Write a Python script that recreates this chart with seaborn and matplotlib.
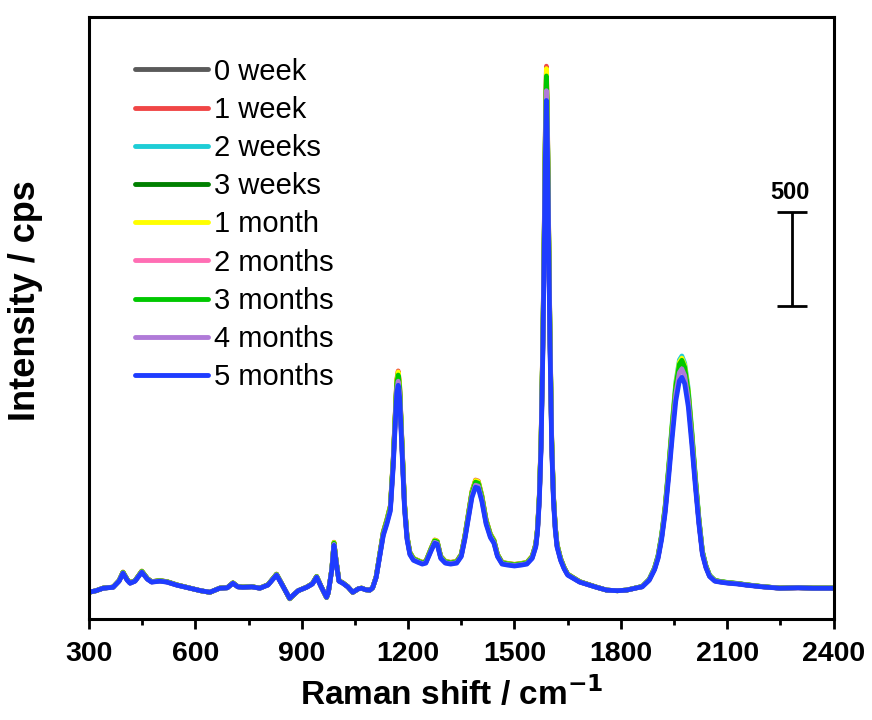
import numpy as np
import pandas as pd
import matplotlib
matplotlib.use("Agg")
import matplotlib.pyplot as plt
import seaborn as sns
from matplotlib.ticker import MultipleLocator

sns.set_theme(style="white")
plt.rcParams['font.family'] = ['Liberation Sans', 'DejaVu Sans']
plt.rcParams['text.color'] = 'black'
plt.rcParams['axes.labelcolor'] = 'black'
plt.rcParams['xtick.color'] = 'black'

# ── data (Raman shift / cm-1, intensity / cps) ──
raman_shift = [300, 320, 340, 368, 385, 396, 408, 416, 430, 449, 465, 477, 500, 520, 548,
               585, 615, 641, 669, 690, 706, 720, 734, 760, 782, 805, 829, 845, 866, 890,
               914, 930, 942, 955, 970, 975, 985, 991, 997, 1005, 1016, 1030, 1044, 1060,
               1069, 1080, 1092, 1100, 1110, 1120, 1130, 1140, 1150, 1158, 1163, 1168, 1172,
               1176, 1180, 1185, 1190, 1197, 1205, 1215, 1227, 1240, 1250, 1265, 1275, 1282,
               1292, 1305, 1320, 1337, 1350, 1360, 1370, 1380, 1390, 1398, 1408, 1420, 1432,
               1442, 1452, 1465, 1480, 1500, 1520, 1535, 1540, 1550, 1560, 1565, 1570, 1575,
               1580, 1584, 1587, 1590, 1593, 1596, 1600, 1605, 1610, 1615, 1620, 1630, 1640,
               1650, 1684, 1731, 1760, 1790, 1816, 1853, 1860, 1880, 1895, 1905, 1915, 1925,
               1935, 1945, 1955, 1965, 1972, 1980, 1990, 2000, 2010, 2020, 2030, 2040, 2050,
               2065, 2080, 2100, 2130, 2154, 2200, 2248, 2300, 2341, 2400]
base_cps = [142, 150, 163, 168, 200, 242, 205, 189, 200, 247, 210, 195, 200, 195, 179,
            163, 150, 142, 163, 165, 189, 170, 168, 170, 163, 180, 232, 180, 110, 150,
            168, 185, 221, 170, 116, 140, 260, 389, 300, 200, 189, 170, 142, 160,
            163, 155, 153, 165, 220, 330, 440, 500, 570, 800, 1000, 1190, 1232,
            1170, 1000, 780, 580, 420, 340, 310, 300, 290, 295, 360, 400, 395,
            320, 295, 290, 295, 330, 420, 530, 640, 695, 690, 620, 500, 430,
            400, 330, 290, 285, 280, 285, 290, 300, 320, 380, 460, 620, 900,
            1400, 1950, 2420, 2732, 2470, 2000, 1450, 900, 620, 470, 380, 310, 265,
            232, 195, 168, 153, 150, 153, 168, 170, 205, 260, 320, 420, 560,
            750, 960, 1150, 1255, 1274, 1240, 1120, 920, 700, 500, 340, 270, 225,
            200, 195, 190, 185, 179, 170, 163, 165, 163, 163]

labels = ['0 week', '1 week', '2 weeks', '3 weeks', '1 month',
          '2 months', '3 months', '4 months', '5 months']
colors = ['#5a5a5a', '#f04646', '#1ecdd6', '#008000', '#ffff00',
          '#ff6eb4', '#00c800', '#b07ad8', '#1e3cff']
# relative band strength of each sample vs. the 5-month spectrum
scale_low = [1.04, 1.07, 1.05, 1.06, 1.065, 1.03, 1.05, 1.02, 1.0]   # below 1800 cm-1
scale_high = [1.05, 1.06, 1.10, 1.07, 1.09, 1.05, 1.08, 1.04, 1.0]   # above 1800 cm-1
floor_cps = 150

x = np.array(raman_shift, dtype=float)
b = np.array(base_cps, dtype=float)
frames = []
for lab, kl, kh in zip(labels, scale_low, scale_high):
    k = np.where(x < 1800, kl, kh)
    frames.append(pd.DataFrame({'shift': x, 'cps': floor_cps + k * (b - floor_cps), 'sample': lab}))
df = pd.concat(frames, ignore_index=True)

fig = plt.figure(figsize=(8.72, 7.2), dpi=100)
ax = fig.add_axes([0.102, 0.140, 0.854, 0.836])
sns.lineplot(data=df, x='shift', y='cps', hue='sample', hue_order=labels,
             palette=colors, estimator=None, sort=False, linewidth=3.4, ax=ax)

ax.set_xlim(300, 2400)
ax.set_ylim(0, 3170)
ax.xaxis.set_major_locator(MultipleLocator(300))
ax.xaxis.set_minor_locator(MultipleLocator(150))
ax.set_yticks([])
ax.tick_params(axis='x', which='major', direction='out', length=7, width=2,
               bottom=True, labelsize=20.5, pad=9)
ax.tick_params(axis='x', which='minor', direction='out', length=4, width=2, bottom=True)
for lab in ax.get_xticklabels():
    lab.set_fontweight('bold')
for s in ax.spines.values():
    s.set_linewidth(2.2)
    s.set_color('black')

ax.set_xlabel('Raman shift / cm$^{\\mathbf{-1}}$', fontsize=24, fontweight='bold')
ax.xaxis.set_label_coords(0.487, -0.095)
ax.set_ylabel('Intensity / cps', fontsize=26, fontweight='bold')
ax.yaxis.set_label_coords(-0.062, 0.53)

# 500 cps scale bar
ax.errorbar([2284], [1897], yerr=[250], color='black', capsize=11, capthick=2,
            elinewidth=2)
ax.text(2278, 2185, '500', ha='center', va='bottom', fontsize=17, fontweight='bold')

leg = ax.legend(loc='upper left', bbox_to_anchor=(0.035, 0.967), frameon=False,
                fontsize=21, handlelength=2.5, handletextpad=0.2, labelspacing=0.35,
                borderaxespad=0.3)
for h in leg.get_lines():
    h.set_linewidth(3.5)

fig.savefig('out.png', dpi=100)
